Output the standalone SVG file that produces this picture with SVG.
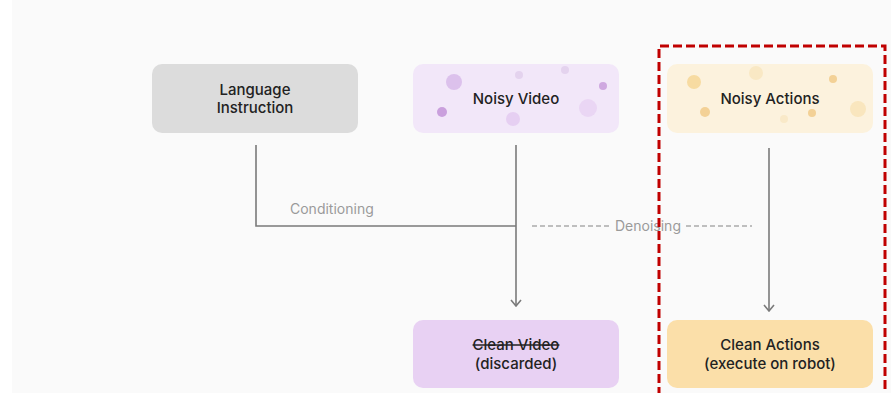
<svg xmlns="http://www.w3.org/2000/svg" width="891" height="393" viewBox="0 0 891 393">
<defs>
<style>
.t{font-family:Inter,"Liberation Sans",sans-serif;font-size:15px;font-weight:500;fill:#222;text-anchor:middle}
.lbl{font-family:Inter,"Liberation Sans",sans-serif;font-size:14px;fill:#9a9a9a}
.ln{stroke:#7a7a7a;stroke-width:1.6;fill:none}
.dl{stroke:#aaaaaa;stroke-width:1.6;stroke-dasharray:5 3;fill:none}
</style>
<marker id="ah" viewBox="0 0 12 12" refX="11" refY="6" markerWidth="12" markerHeight="12" markerUnits="userSpaceOnUse" orient="auto">
<path d="M5 1 L11 6 L5 11" fill="none" stroke="#7a7a7a" stroke-width="1.6"/>
</marker>
</defs>
<rect x="0" y="0" width="891" height="393" fill="#ffffff"/>
<rect x="12" y="0" width="879" height="393" fill="#fafafa"/>

<g id="connectors">
<path class="ln" d="M256 145 V226 H516"/>
<path class="ln" d="M516 145 V306" marker-end="url(#ah)"/>
<path class="ln" d="M769 148 V311" marker-end="url(#ah)"/>
<path class="dl" d="M532 226 H610"/>
<path class="dl" d="M686 226 H752"/>
<text class="lbl" x="290" y="214">Conditioning</text>
<text class="lbl" x="648" y="231" text-anchor="middle">Denoising</text>
</g>

<g id="language-instruction">
<rect x="152" y="64" width="206" height="69" rx="10" fill="#dcdcdc"/>
<text class="t" x="255" y="95">Language</text>
<text class="t" x="255" y="113">Instruction</text>
</g>

<g id="noisy-video">
<rect x="413" y="64" width="206" height="69" rx="10" fill="#f2e7f9"/>
<circle cx="454" cy="82" r="8" fill="#dcc1ec"/>
<circle cx="442" cy="112" r="5" fill="#caa0dd"/>
<circle cx="519" cy="75" r="4" fill="#e4d3ee"/>
<circle cx="565" cy="70" r="4" fill="#e4d3ee"/>
<circle cx="603" cy="86" r="4" fill="#cfa8e0"/>
<circle cx="588" cy="108" r="9" fill="#ead6f4"/>
<circle cx="513" cy="119" r="7" fill="#e6cff2"/>
<text class="t" x="516" y="104">Noisy Video</text>
</g>

<g id="noisy-actions">
<rect x="667" y="64" width="206" height="69" rx="10" fill="#fcf2dd"/>
<circle cx="694" cy="82" r="7" fill="#f7dba1"/>
<circle cx="756" cy="73" r="7" fill="#f9e8c4"/>
<circle cx="833" cy="79" r="4" fill="#f3d196"/>
<circle cx="705" cy="112" r="5" fill="#f3d196"/>
<circle cx="812" cy="113" r="4" fill="#f3d196"/>
<circle cx="784" cy="119" r="4" fill="#f9e9c8"/>
<circle cx="858" cy="109" r="8" fill="#f9e6be"/>
<text class="t" x="770" y="104">Noisy Actions</text>
</g>

<g id="clean-video">
<rect x="413" y="320" width="206" height="68" rx="10" fill="#e8d1f3"/>
<text class="t" x="516" y="350" text-decoration="line-through">Clean Video</text>
<text class="t" x="516" y="369">(discarded)</text>
</g>

<g id="clean-actions">
<rect x="667" y="320" width="206" height="68" rx="10" fill="#fbdfa9"/>
<text class="t" x="770" y="350">Clean Actions</text>
<text class="t" x="770" y="369">(execute on robot)</text>
</g>

<g id="highlight">
<path d="M659 396 V46 H885 V396" fill="none" stroke="#c00000" stroke-width="3" stroke-dasharray="9 4"/>
</g>
</svg>
